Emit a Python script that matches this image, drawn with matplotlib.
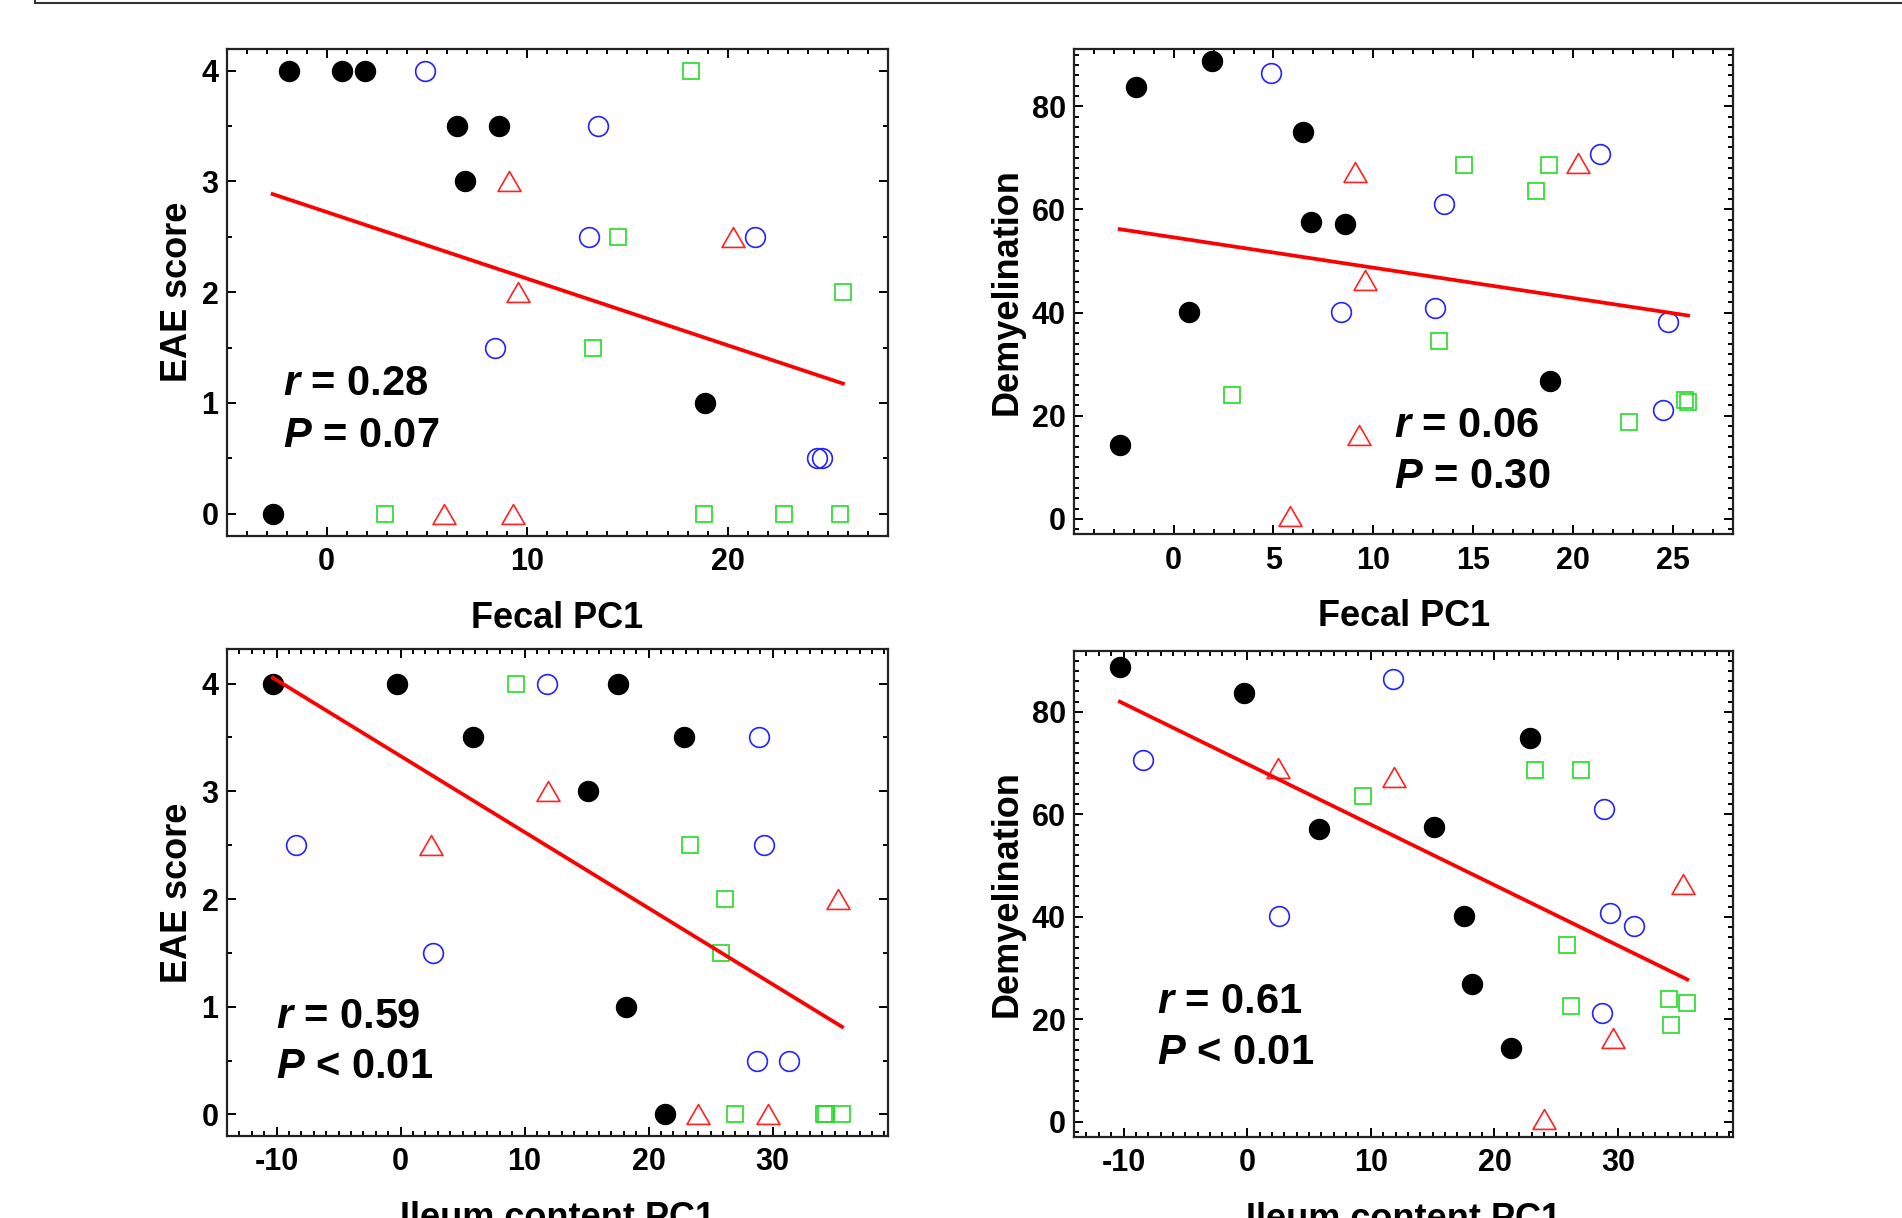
import numpy as np
import matplotlib
matplotlib.use("Agg")
import matplotlib.pyplot as plt
from matplotlib.lines import Line2D
from matplotlib.path import Path
from matplotlib.ticker import MultipleLocator

plt.rcParams['font.family'] = ['Liberation Sans', 'DejaVu Sans']
plt.rcParams['font.weight'] = 'bold'
plt.rcParams['axes.unicode_minus'] = False
plt.rcParams['mathtext.fontset'] = 'custom'
plt.rcParams['mathtext.it'] = 'Liberation Sans:bold:italic'
plt.rcParams['mathtext.rm'] = 'Liberation Sans:bold'

# one value per mouse, four groups
black_fecal = [-2.7, -1.9, 0.75, 1.9, 6.5, 6.9, 8.6, 18.85]
black_ileum = [21.35, -0.27, 17.55, -10.3, 22.84, 15.08, 5.8, 18.16]
black_eae = [0, 4, 4, 4, 3.5, 3, 3.5, 1]
black_demy = [14.3, 83.7, 40.1, 88.7, 75.0, 57.6, 57.1, 26.8]

blue_fecal = [4.88, 13.55, 13.07, 21.36, 8.37, 24.48, 24.73]
blue_ileum = [11.77, 28.87, 29.31, -8.4, 2.6, 28.7, 31.3]
blue_eae = [4, 3.5, 2.5, 2.5, 1.5, 0.5, 0.5]
blue_demy = [86.5, 61.1, 40.8, 70.7, 40.1, 21.2, 38.2]

green_fecal = [18.15, 14.55, 25.75, 13.3, 18.8, 2.9, 22.8, 25.6]
green_ileum = [9.34, 23.3, 26.17, 25.85, 26.98, 34.13, 34.3, 35.59]
green_eae = [4, 2.5, 2, 1.5, 0, 0, 0, 0]
green_demy = [63.5, 68.6, 22.6, 34.5, 68.6, 24.0, 18.8, 23.1]

red_fecal = [9.08, 9.56, 20.25, 5.85, 9.28]
red_ileum = [11.9, 35.27, 2.47, 24.0, 29.6]
red_eae = [3, 2, 2.5, 0, 0]
red_demy = [67.3, 46.4, 69.0, 0.6, 16.3]

stats_text = [
    (r'$r$ = 0.28', r'$P$ = 0.07'),
    (r'$r$ = 0.06', r'$P$ = 0.30'),
    (r'$r$ = 0.59', r'$P$ < 0.01'),
    (r'$r$ = 0.61', r'$P$ < 0.01'),
]

tri = Path([(-1, -0.866), (1, -0.866), (0, 0.866), (0, 0)], closed=True)

fig = plt.figure(figsize=(19.02, 12.18), dpi=100)

positions = [
    [0.1193, 0.5601, 0.3476, 0.4000],
    [0.5647, 0.5612, 0.3465, 0.3982],
    [0.1193, 0.0673, 0.3476, 0.3998],
    [0.5647, 0.0665, 0.3465, 0.3994],
]
panels = [
    ('fecal', 'eae', 'Fecal PC1', 'EAE score'),
    ('fecal', 'demy', 'Fecal PC1', 'Demyelination'),
    ('ileum', 'eae', 'Ileum content PC1', 'EAE score'),
    ('ileum', 'demy', 'Ileum content PC1', 'Demyelination'),
]
groups = {
    'black': {'fecal': black_fecal, 'ileum': black_ileum, 'eae': black_eae, 'demy': black_demy},
    'blue': {'fecal': blue_fecal, 'ileum': blue_ileum, 'eae': blue_eae, 'demy': blue_demy},
    'green': {'fecal': green_fecal, 'ileum': green_ileum, 'eae': green_eae, 'demy': green_demy},
    'red': {'fecal': red_fecal, 'ileum': red_ileum, 'eae': red_eae, 'demy': red_demy},
}
xlims = [(-4.98, 28), (-4.98, 28), (-14, 39.3), (-14, 39.3)]
ylims = [(-0.2, 4.2), (-3, 91), (-0.2, 4.32), (-3, 92)]
xmajor = [10, 5, 10, 10]
ymajor = [1, 20, 1, 20]
yminor = [0.5, 2, 0.5, 2]
text_pos = [(0.085, 0.289, 0.182), (0.486, 0.200, 0.095),
            (0.074, 0.222, 0.120), (0.126, 0.255, 0.150)]

for i, (xk, yk, xlab, ylab) in enumerate(panels):
    ax = fig.add_axes(positions[i])
    g = groups
    ax.plot(g['black'][xk], g['black'][yk], 'o', color='black', ms=14.4, zorder=3)
    ax.plot(g['blue'][xk], g['blue'][yk], 'o', mfc='none', mec='#2222ff', mew=1.2, ms=14.2, zorder=3)
    ax.plot(g['green'][xk], g['green'][yk], 's', mfc='none', mec='#22dd22', mew=1.2, ms=12.2, zorder=3)
    ax.plot(g['red'][xk], g['red'][yk], marker=tri, ls='none', mfc='none', mec='#ff2222', mew=1.2, ms=16.5, zorder=3)

    # least squares line over all mice
    allx = np.concatenate([g[k][xk] for k in g])
    ally = np.concatenate([g[k][yk] for k in g])
    slope, intercept = np.polyfit(allx, ally, 1)
    xs = np.array([allx.min(), allx.max()])
    ax.plot(xs, slope * xs + intercept, color='#ff0000', lw=2.7, zorder=4)

    ax.set_xlim(xlims[i])
    ax.set_ylim(ylims[i])
    ax.xaxis.set_major_locator(MultipleLocator(xmajor[i]))
    ax.xaxis.set_minor_locator(MultipleLocator(1))
    ax.yaxis.set_major_locator(MultipleLocator(ymajor[i]))
    ax.yaxis.set_minor_locator(MultipleLocator(yminor[i]))
    ax.tick_params(which='both', direction='in', top=True, right=True, width=1.4)
    ax.tick_params(which='major', length=6.5, labelsize=22)
    ax.tick_params(axis='x', which='major', pad=8)
    ax.tick_params(axis='y', which='major', pad=6)
    ax.tick_params(which='minor', length=3.8)
    for sp in ax.spines.values():
        sp.set_linewidth(1.6)
        sp.set_color('#222222')

    ax.set_xlabel(xlab, fontsize=26, fontweight='bold', labelpad=17)
    ax.set_ylabel(ylab, fontsize=26, fontweight='bold', labelpad=5)

    tx, ty1, ty2 = text_pos[i]
    ax.text(tx, ty1, stats_text[i][0], transform=ax.transAxes, fontsize=30, fontweight='bold', va='baseline')
    ax.text(tx, ty2, stats_text[i][1], transform=ax.transAxes, fontsize=30, fontweight='bold', va='baseline')

# frame edge of the panel above, cropped at the top
x0 = 35 / 1902
y0 = 1 - 3 / 1218
fig.add_artist(Line2D([x0, 1], [y0, y0], transform=fig.transFigure, color='#333333', lw=1.5))
fig.add_artist(Line2D([x0, x0], [y0, 1], transform=fig.transFigure, color='#333333', lw=1.5))

plt.savefig('out.png', dpi=100)
